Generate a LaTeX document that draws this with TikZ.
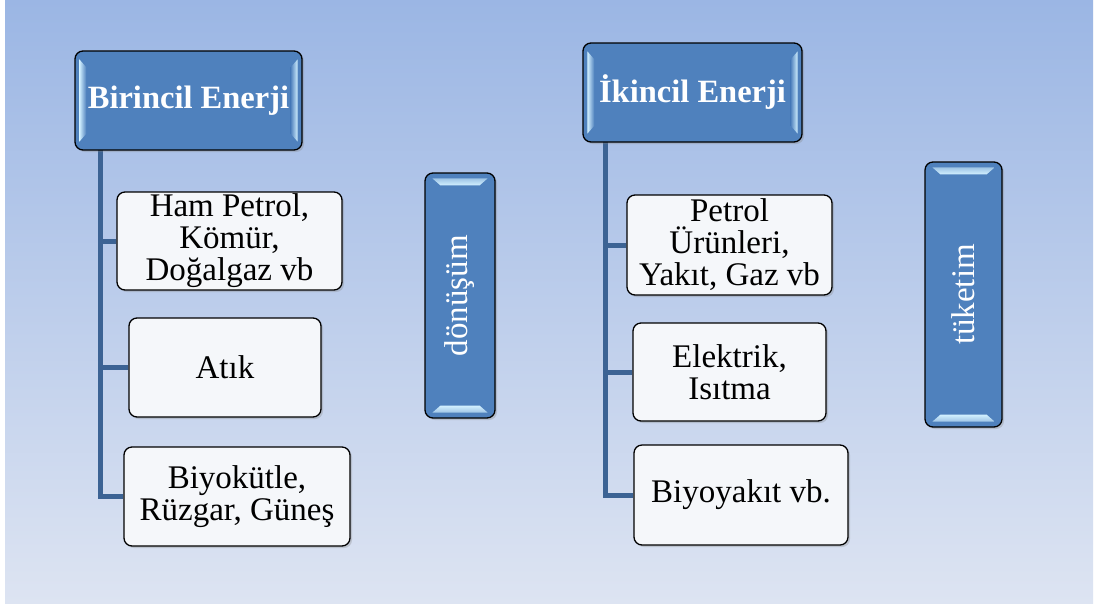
\documentclass[tikz,border=0pt]{standalone}
\usepackage{fontspec}
\setmainfont{Liberation Serif}
\usetikzlibrary{shadows,calc}
\definecolor{bgtop}{RGB}{155,182,228}
\definecolor{bgbot}{RGB}{221,228,242}
\definecolor{boxblue}{RGB}{79,129,189}
\definecolor{hilite}{RGB}{210,240,255}
\definecolor{connblue}{RGB}{60,99,148}
\definecolor{paper}{RGB}{245,247,250}
\tikzset{
  base/.style={rounded corners=8pt, draw=black, line width=1.3pt, inner sep=0pt, align=center,
    font=\fontsize{33}{32}\selectfont,
    drop shadow={opacity=0.3,shadow xshift=2pt,shadow yshift=-2pt}},
  headbox/.style={base, fill=boxblue, text=white, font=\bfseries\fontsize{32.5}{32}\selectfont},
  vbox/.style={base, fill=boxblue, text=white},
  itembox/.style={base, fill=paper, text=black},
  conn/.style={draw=connblue, line width=5pt},
}
\newcommand\hbars[1]{%
  \shade[left color=hilite, right color=boxblue] ($(#1.north west)+(5,9)$) -- ($(#1.north west)+(12,17)$) -- ($(#1.south west)+(12,-17)$) -- ($(#1.south west)+(5,-9)$) -- cycle;
  \shade[right color=hilite, left color=boxblue] ($(#1.north east)+(-5,9)$) -- ($(#1.north east)+(-12,17)$) -- ($(#1.south east)+(-12,-17)$) -- ($(#1.south east)+(-5,-9)$) -- cycle;}
\newcommand\vbars[1]{%
  \shade[top color=boxblue!40!hilite, bottom color=hilite] ($(#1.north west)+(8,6)$) -- ($(#1.north east)+(-8,6)$) -- ($(#1.north east)+(-16,13)$) -- ($(#1.north west)+(16,13)$) -- cycle;
  \shade[bottom color=boxblue!40!hilite, top color=hilite] ($(#1.south west)+(8,-6)$) -- ($(#1.south east)+(-8,-6)$) -- ($(#1.south east)+(-16,-13)$) -- ($(#1.south west)+(16,-13)$) -- cycle;}
\begin{document}
\begin{tikzpicture}[x=1pt,y=-1pt]
\useasboundingbox (0,0) rectangle (1097,606);
\fill[white] (0,0) rectangle (1097,606);
\shade[top color=bgtop,bottom color=bgbot] (5,0) rectangle (1093,603);

\coordinate (ltop) at (100,140);
\coordinate (rtop) at (605,132);
\node[itembox, minimum width=225, minimum height=98] (ham) at (229.5,241) {Ham Petrol,\\Kömür,\\Doğalgaz vb};
\node[itembox, minimum width=192, minimum height=99] (atik) at (225,367.5) {Atık};
\node[itembox, minimum width=226, minimum height=99] (biyok) at (237,496.5) {Biyokütle,\\Rüzgar, Güneş};
\node[itembox, minimum width=205, minimum height=100] (petrol) at (729.5,245) {Petrol\\Ürünleri,\\Yakıt, Gaz vb};
\node[itembox, minimum width=193, minimum height=98] (elek) at (729.5,372) {Elektrik,\\Isıtma};
\node[itembox, minimum width=214, minimum height=100] (biyoy) at (741,495) {Biyoyakıt vb.};

\draw[conn] (ltop) |- (ham.west);
\draw[conn] (ltop) |- (atik.west);
\draw[conn] (ltop) |- (biyok.west);
\draw[conn] (rtop) |- (petrol.west);
\draw[conn] (rtop) |- (elek.west);
\draw[conn] (rtop) |- (biyoy.west);

\node[headbox, minimum width=227, minimum height=99] (bir) at (188.5,100.5) {Birincil Enerji};
\node[headbox, minimum width=219, minimum height=99] (iki) at (692.5,92.5) {İkincil Enerji};
\node[vbox, minimum width=70, minimum height=245] (don) at (460,295.5) {\rotatebox{90}{dönüşüm}};
\node[vbox, minimum width=77, minimum height=265] (tuk) at (963.5,294.5) {\rotatebox{90}{tüketim}};

\hbars{bir}
\hbars{iki}
\vbars{don}
\vbars{tuk}
\end{tikzpicture}
\end{document}
